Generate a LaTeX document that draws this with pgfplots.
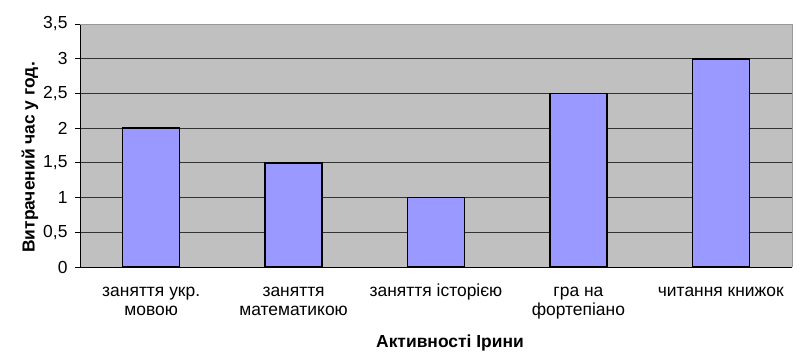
\documentclass[border=0pt]{standalone}
\usepackage{pgfplots}
\pgfplotsset{compat=1.18}
\usepackage{fontspec}
\setmainfont{Liberation Sans}
\definecolor{plotbg}{HTML}{C0C0C0}
\definecolor{barfill}{HTML}{9999FF}
\begin{document}
\begin{tikzpicture}
\begin{axis}[
  name=ax,
  scale only axis,
  width=712bp, height=243bp,
  xmin=-0.5, xmax=4.5, ymin=0, ymax=3.5,
  axis background/.style={fill=plotbg},
  axis x line*=bottom, axis y line*=left,
  axis line style={black, line width=0.8pt},
  ytick={0,0.5,1,1.5,2,2.5,3,3.5},
  ymajorgrids,
  grid style={black!80, line width=1pt},
  yticklabel style={/pgf/number format/use comma, font=\fontsize{17.5}{19}\selectfont, xshift=-4bp},
  /pgf/number format/assume math mode=true,
  y tick style={black, line width=0.8pt},
  tick align=outside,
  major tick length=5bp,
  xtick={0,1,2,3,4},
  xticklabels={{\strut заняття укр.\\\strut мовою},{\strut заняття\\\strut математикою},{\strut заняття історією},{\strut гра на\\\strut фортепіано},{\strut читання книжок}},
  x tick label style={align=center, font=\fontsize{17.5}{19}\selectfont, anchor=north, yshift=-8bp},
  x tick style={draw=none},
  extra x ticks={0.5,1.5,2.5,3.5},
  extra x tick labels={},
  extra x tick style={x tick style={black, line width=0.8pt}, major tick length=5bp, tick align=outside},
  ylabel={\bfseries Витрачений час у год.},
  ylabel style={font=\fontsize{17.5}{19}\selectfont, at={([xshift=-50bp,yshift=-12bp]rel axis cs:0,0.5)}, anchor=center},
  xlabel={\bfseries Активності Ірини},
  xlabel style={font=\fontsize{17.5}{19}\selectfont, at={([xshift=14bp,yshift=-76bp]rel axis cs:0.5,0)}, anchor=center},
  ybar, bar width=57bp,
  clip=false,
]
\addplot[fill=barfill, draw=black, line width=1.6pt] coordinates {(0,2) (1,1.5) (2,1) (3,2.5) (4,3)};
\draw[gray!80, line width=0.8pt] (rel axis cs:0,1) -- (rel axis cs:1,1) -- (rel axis cs:1,0);
\end{axis}
\pgfresetboundingbox
\path ([xshift=-80bp,yshift=-85bp]ax.south west) rectangle ([xshift=8bp,yshift=24bp]ax.north east);
\end{tikzpicture}
\end{document}
